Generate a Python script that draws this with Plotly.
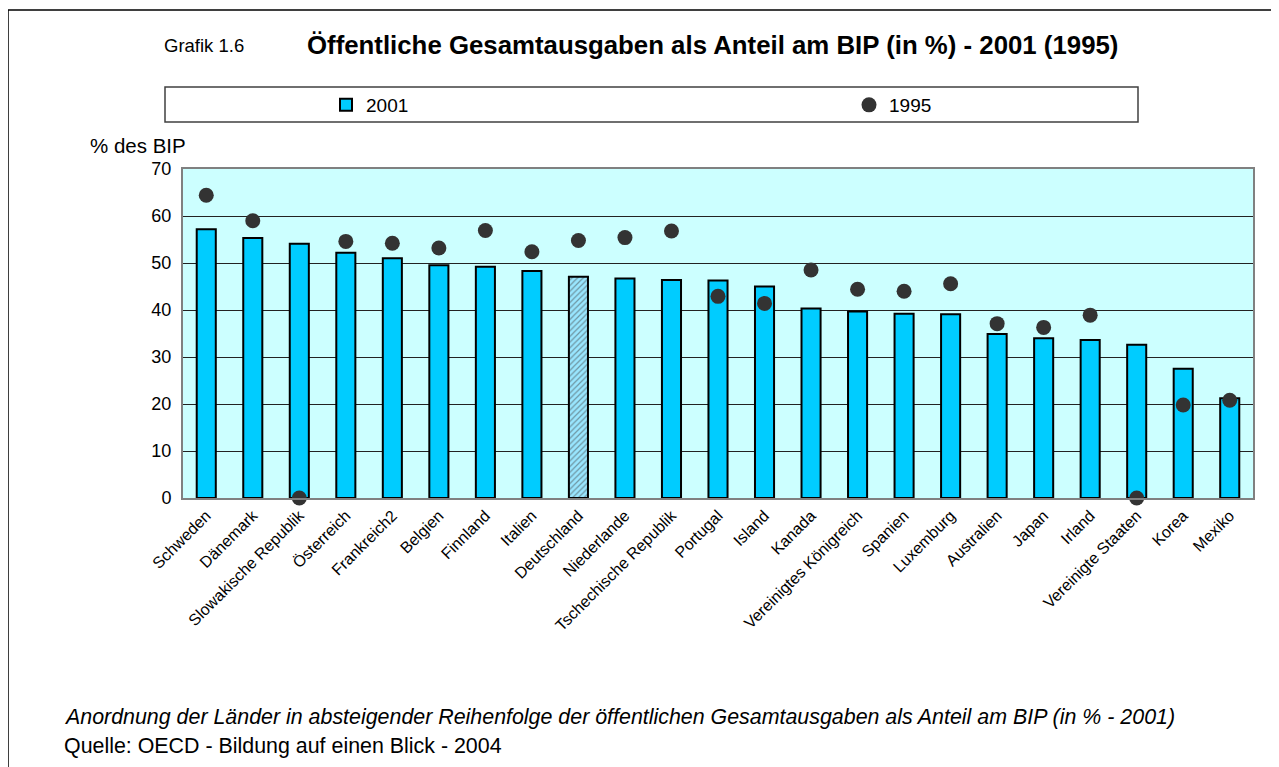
import plotly.graph_objects as go

countries = ["Schweden", "Dänemark", "Slowakische Republik", "Österreich", "Frankreich2",
             "Belgien", "Finnland", "Italien", "Deutschland", "Niederlande",
             "Tschechische Republik", "Portugal", "Island", "Kanada", "Vereinigtes Königreich",
             "Spanien", "Luxemburg", "Australien", "Japan", "Irland",
             "Vereinigte Staaten", "Korea", "Mexiko"]
values_2001 = [57.2, 55.3, 54.1, 52.2, 51.0, 49.5, 49.2, 48.3, 47.1, 46.7,
               46.4, 46.3, 45.0, 40.3, 39.7, 39.2, 39.1, 34.9, 34.0, 33.6,
               32.6, 27.5, 21.2]
values_1995 = [64.4, 59.0, 0, 54.6, 54.2, 53.2, 56.9, 52.4, 54.8, 55.4,
               56.8, 42.9, 41.4, 48.5, 44.4, 44.0, 45.6, 37.1, 36.3, 38.9,
               0, 19.8, 20.8]
y_ticks = [0, 10, 20, 30, 40, 50, 60, 70]

FONT = "Liberation Sans, Arial, sans-serif"

# Deutschland hervorgehoben (schraffiert)
bar_colors = ["#99E6FF" if c == "Deutschland" else "#00CCFF" for c in countries]
bar_shapes = ["/" if c == "Deutschland" else "" for c in countries]

fig = go.Figure()
fig.add_trace(go.Bar(
    x=countries, y=values_2001, name="2001", width=0.41, legend="legend",
    marker=dict(color=bar_colors, line=dict(color="black", width=2),
                pattern=dict(shape=bar_shapes, fgcolor="#66CCFF", size=4, solidity=0.3)),
))
fig.add_trace(go.Scatter(
    x=countries, y=values_1995, name="1995", mode="markers", cliponaxis=False,
    legend="legend2",
    marker=dict(color="#333333", size=15, line=dict(width=0)),
))

W, H = 1279, 767
OFF = 8  # body margin of the page
L, R, T, B = 175, 1245, 161, 490
pw, ph = R - L, B - T


def px(x):
    # screen x -> paper
    return (x - OFF - L) / pw


def py(y):
    # screen y -> paper
    return (B - (y - OFF)) / ph


leg = dict(orientation="h", xanchor="left", yanchor="middle", bgcolor="rgba(0,0,0,0)",
           font=dict(size=19, family=FONT), borderwidth=0, itemclick=False)

fig.update_layout(
    width=W, height=H,
    margin=dict(l=L, r=W - R, t=T, b=H - B),
    paper_bgcolor="white", plot_bgcolor="#CCFFFF",
    font=dict(family=FONT, color="black", size=16),
    showlegend=True,
    legend=dict(leg, x=px(326), y=py(105)),
    legend2=dict(leg, x=px(849), y=py(105)),
    xaxis=dict(tickangle=-45, tickfont=dict(size=16), showgrid=False,
               showline=True, linecolor="#808080", linewidth=2, mirror=True,
               ticks="", range=[-0.5, len(countries) - 0.5]),
    yaxis=dict(range=[0, 70], tickvals=y_ticks, tickfont=dict(size=18),
               showgrid=True, gridcolor="#222222", gridwidth=1,
               showline=True, linecolor="#808080", linewidth=2, mirror=True,
               zeroline=False, ticks="", ticklabelstandoff=6),
    shapes=[
        # aeusserer Rahmen
        dict(type="rect", xref="paper", yref="paper", x0=px(8), x1=px(1276),
             y0=py(800), y1=py(10), line=dict(color="black", width=1.5), layer="below"),
        # Legendenrahmen
        dict(type="rect", xref="paper", yref="paper", x0=px(165), x1=px(1138),
             y0=py(122), y1=py(87), line=dict(color="#404040", width=1.5)),
    ],
    annotations=[
        dict(text="Grafik 1.6", xref="paper", yref="paper", x=px(162), y=py(45),
             xanchor="left", yanchor="middle", showarrow=False, font=dict(size=18.5)),
        dict(text="<b>Öffentliche Gesamtausgaben als Anteil am BIP (in %) - 2001 (1995)</b>",
             xref="paper", yref="paper", x=px(305), y=py(45), xanchor="left", yanchor="middle",
             showarrow=False, font=dict(size=25.8)),
        dict(text="% des BIP", xref="paper", yref="paper", x=px(88), y=py(145),
             xanchor="left", yanchor="middle", showarrow=False, font=dict(size=20.5)),
        dict(text="<i>Anordnung der Länder in absteigender Reihenfolge der öffentlichen "
                  "Gesamtausgaben als Anteil am BIP (in % - 2001)</i>",
             xref="paper", yref="paper", x=px(62), y=py(717), xanchor="left", yanchor="middle",
             showarrow=False, font=dict(size=21.4)),
        dict(text="Quelle: OECD - Bildung auf einen Blick - 2004", xref="paper", yref="paper",
             x=px(62), y=py(746), xanchor="left", yanchor="middle", showarrow=False,
             font=dict(size=21.4)),
    ],
)

fig.write_html("out.html")
